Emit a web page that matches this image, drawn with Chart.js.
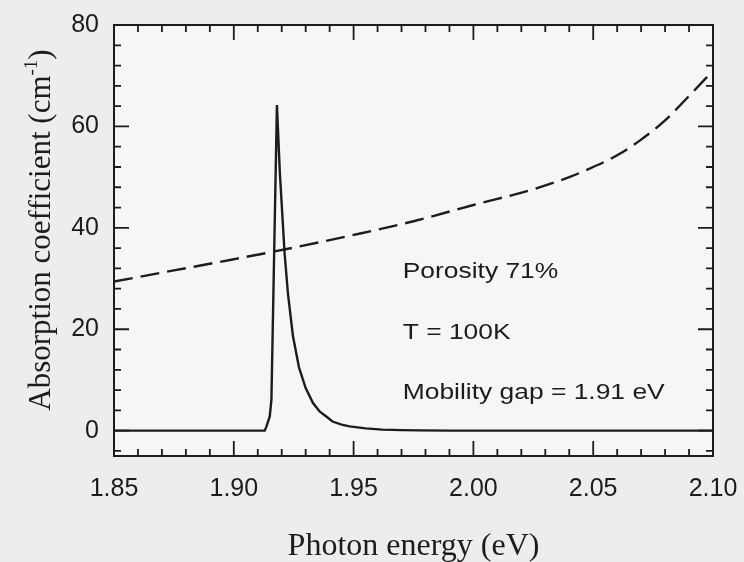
<!DOCTYPE html>
<html>
<head>
<meta charset="utf-8">
<script src="https://cdn.jsdelivr.net/npm/chart.js@4/dist/chart.umd.min.js"></script>
<style>
html,body{margin:0;padding:0;background:#ededed;}
canvas{display:block;}
</style>
</head>
<body>
<canvas id="c" width="744" height="562"></canvas>
<script>
// ---- data ----
const peakX = [1.85, 1.9129, 1.9136, 1.915, 1.9157, 1.918, 1.9192, 1.9212, 1.9226, 1.9247, 1.9272, 1.9300, 1.9330, 1.9358, 1.9386, 1.9412, 1.9450, 1.9483, 1.9550, 1.962, 1.970, 1.9775, 1.99, 2.10];
const peakY = [0, 0, 0.8, 2.8, 6.1, 64.2, 51, 35, 27, 18.6, 12.5, 8.4, 5.5, 3.8, 2.8, 1.8, 1.2, 0.85, 0.45, 0.2, 0.1, 0.05, 0, 0];
const dashX = [1.85, 1.875, 1.90, 1.925, 1.95, 1.975, 2.00, 2.025, 2.04, 2.05, 2.06, 2.07, 2.08, 2.09, 2.10];
const dashY = [29.4, 31.6, 33.8, 36.1, 38.6, 41.3, 44.5, 47.6, 50.0, 52.0, 54.3, 57.4, 61.2, 66.0, 71.0];
const xTicks = [1.85, 1.90, 1.95, 2.00, 2.05, 2.10];
const yTicks = [0, 20, 40, 60, 80];
const xTitle = "Photon energy (eV)";
const yTitle = "Absorption coefficient (cm";
const yTitleSup = "-1";
const notes = ["Porosity 71%", "T = 100K", "Mobility gap = 1.91 eV"];

const toPts = (xs, ys) => xs.map((x, i) => ({x: x, y: ys[i]}));
const INK = '#1c1c1c';
const SERIF = '"Liberation Serif", "Times New Roman", serif';
const SANS = '"Liberation Sans", Arial, sans-serif';

const framePlugin = {
  id: 'frame',
  beforeDatasetsDraw(chart) {
    const {ctx, chartArea: a} = chart;
    ctx.save();
    ctx.fillStyle = '#f6f6f6';
    ctx.fillRect(a.left, a.top, a.right - a.left, a.bottom - a.top);
    ctx.restore();
  },
  afterDraw(chart) {
    const {ctx, chartArea: a, scales} = chart;
    const xs = scales.x, ys = scales.y;
    ctx.save();
    ctx.strokeStyle = INK;
    ctx.lineWidth = 2;
    ctx.strokeRect(a.left, a.top, a.right - a.left, a.bottom - a.top);
    ctx.lineWidth = 1.8;
    // x ticks (major every 0.05, minor every 0.01)
    for (let i = 0; i <= 25; i++) {
      const v = xs.min + i * 0.01;
      const px = xs.getPixelForValue(v);
      const len = (i % 5 === 0) ? 15 : 7;
      ctx.beginPath();
      ctx.moveTo(px, a.bottom); ctx.lineTo(px, a.bottom - len);
      ctx.moveTo(px, a.top); ctx.lineTo(px, a.top + len);
      ctx.stroke();
    }
    // y ticks (major every 20, minor every 4)
    for (let v = -4; v <= 80; v += 4) {
      const py = ys.getPixelForValue(v);
      const len = (v % 20 === 0) ? 15 : 7;
      ctx.beginPath();
      ctx.moveTo(a.left, py); ctx.lineTo(a.left + len, py);
      ctx.moveTo(a.right, py); ctx.lineTo(a.right - len, py);
      ctx.stroke();
    }
    // axis titles
    ctx.fillStyle = INK;
    ctx.font = '32px ' + SERIF;
    ctx.textAlign = 'center';
    ctx.textBaseline = 'alphabetic';
    ctx.fillText(xTitle, (a.left + a.right) / 2, 555);
    // y title rotated with superscript
    ctx.save();
    ctx.font = '31px ' + SERIF;
    const mainW = ctx.measureText(yTitle).width;
    ctx.font = '19px ' + SERIF;
    const supW = ctx.measureText(yTitleSup).width;
    ctx.font = '31px ' + SERIF;
    const closeW = ctx.measureText(')').width;
    const total = mainW + supW + closeW;
    ctx.translate(50, 230);
    ctx.rotate(-Math.PI / 2);
    ctx.textAlign = 'left';
    const x0 = -total / 2;
    ctx.fillText(yTitle, x0, 0);
    ctx.font = '19px ' + SERIF;
    ctx.fillText(yTitleSup, x0 + mainW, -13);
    ctx.font = '31px ' + SERIF;
    ctx.fillText(')', x0 + mainW + supW, 0);
    ctx.restore();
    // annotations
    ctx.font = '22px ' + SANS;
    ctx.textAlign = 'left';
    const nx = xs.getPixelForValue(1.9705);
    const ny = [30.1, 18.1, 6.3];
    notes.forEach((t, i) => {
      ctx.save();
      ctx.translate(nx, ys.getPixelForValue(ny[i]));
      ctx.scale(1.2, 1);
      ctx.fillText(t, 0, 0);
      ctx.restore();
    });
    ctx.restore();
  }
};

new Chart(document.getElementById('c'), {
  type: 'line',
  data: {
    datasets: [
      {data: toPts(peakX, peakY), borderColor: INK, borderWidth: 2.4, pointRadius: 0, tension: 0, fill: false},
      {data: toPts(dashX, dashY), borderColor: INK, borderWidth: 2.4, borderDash: [19, 8], pointRadius: 0, tension: 0.4, cubicInterpolationMode: 'monotone', fill: false}
    ]
  },
  options: {
    responsive: false,
    animation: false,
    layout: {padding: {top: 25, right: 31, left: 0, bottom: 0}},
    plugins: {legend: {display: false}, tooltip: {enabled: false}},
    scales: {
      x: {
        type: 'linear', min: 1.85, max: 2.10,
        grid: {display: false, drawTicks: false},
        border: {display: false},
        afterBuildTicks: s => { s.ticks = xTicks.map(v => ({value: v})); },
        afterFit: s => { s.height = 106; s.paddingLeft = 0; s.paddingRight = 0; },
        ticks: {padding: 18, color: INK, font: {family: SANS, size: 25}, callback: v => v.toFixed(2), maxRotation: 0, autoSkip: false}
      },
      y: {
        type: 'linear', min: -5, max: 80,
        grid: {display: false, drawTicks: false},
        border: {display: false},
        afterBuildTicks: s => { s.ticks = yTicks.map(v => ({value: v})); },
        afterFit: s => { s.width = 114; s.paddingTop = 0; s.paddingBottom = 0; },
        ticks: {padding: 15, color: INK, font: {family: SANS, size: 25}, callback: v => String(v)}
      }
    }
  },
  plugins: [framePlugin]
});
</script>
</body>
</html>
